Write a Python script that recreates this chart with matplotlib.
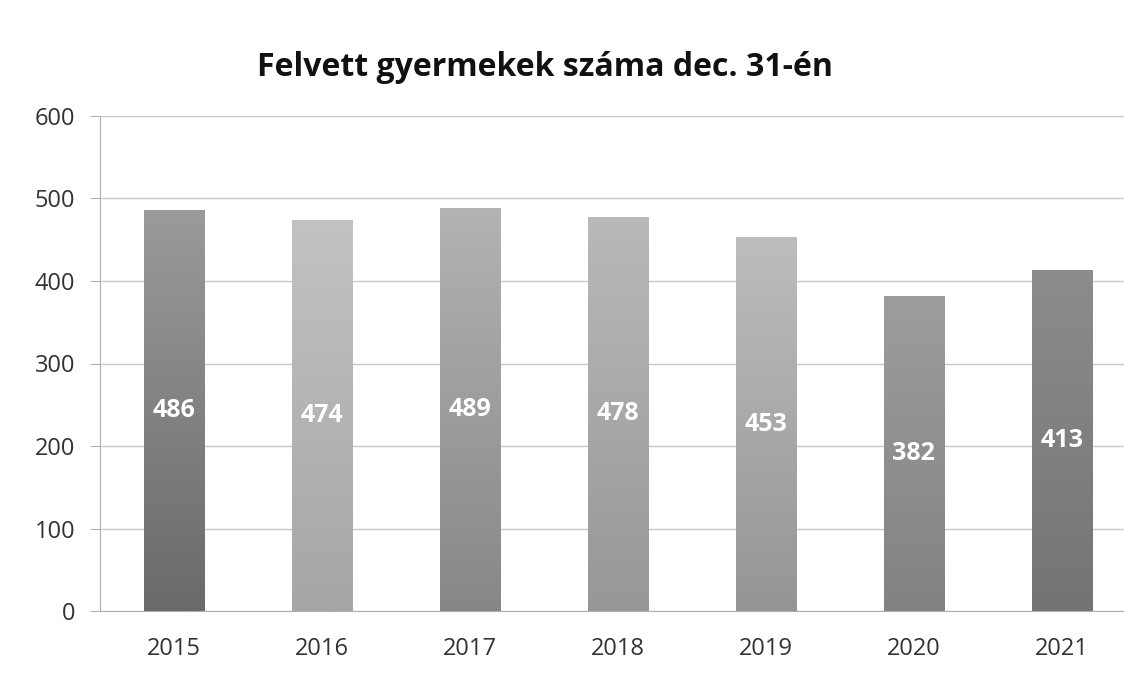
import numpy as np
import matplotlib.pyplot as plt

evek = ['2015', '2016', '2017', '2018', '2019', '2020', '2021']
gyermekek = [486, 474, 489, 478, 453, 382, 413]

# szurke arnyalatok (felul, alul) - a szkennelt kep alapjan
felso = ['#9a9a9a', '#c2c2c2', '#b3b3b3', '#b9b9b9', '#bdbdbd', '#9d9d9d', '#8c8c8c']
also = ['#6a6a6a', '#a6a6a6', '#878787', '#979797', '#959595', '#828282', '#747474']

plt.rcParams['font.family'] = ['Open Sans', 'DejaVu Sans']

fig = plt.figure(figsize=(11.24, 6.78), dpi=100)
ax = fig.add_axes([100/1124, 1-611/678, 1-100/1124, (611-116)/678])

x = np.arange(len(evek))
oszlopok = ax.bar(x, gyermekek, width=0.41, color='#999999', zorder=2)

# fuggoleges szinatmenet az oszlopokra
for i, b in enumerate(oszlopok):
    t = np.array(plt.matplotlib.colors.to_rgb(felso[i]))
    a = np.array(plt.matplotlib.colors.to_rgb(also[i]))
    s = np.linspace(0, 1, 100)[:, None]
    grad = (t * (1 - s) + a * s)[:, None, :]
    im = ax.imshow(grad, extent=[b.get_x(), b.get_x() + b.get_width(), 0, b.get_height()],
                   aspect='auto', zorder=3, interpolation='bilinear')
    im.set_clip_path(b)

for i, v in enumerate(gyermekek):
    ax.text(x[i], v / 2, str(v), ha='center', va='center', color='white',
            fontsize=18, fontweight='bold', zorder=4)

ax.set_xlim(-0.5, 6.42)
ax.set_ylim(0, 600)
ax.set_yticks([0, 100, 200, 300, 400, 500, 600])
ax.set_xticks(x)
ax.set_xticklabels(evek)
ax.yaxis.grid(True, color='#c8c8c8', linewidth=1, zorder=0)
ax.set_axisbelow(True)

for sp in ['top', 'right']:
    ax.spines[sp].set_visible(False)
ax.spines['left'].set_color('#b0b0b0')
ax.spines['bottom'].set_color('#b0b0b0')
ax.tick_params(axis='y', length=7, color='#b0b0b0', labelsize=17, labelcolor='#333333', pad=11)
ax.tick_params(axis='x', length=0, labelsize=17, labelcolor='#333333', pad=19)

fig.text(545/1124, 1-68/678, 'Felvett gyermekek száma dec. 31-én', ha='center', va='center',
         fontsize=23, fontweight='bold', color='#111111')

fig.savefig('out.png', dpi=100)
